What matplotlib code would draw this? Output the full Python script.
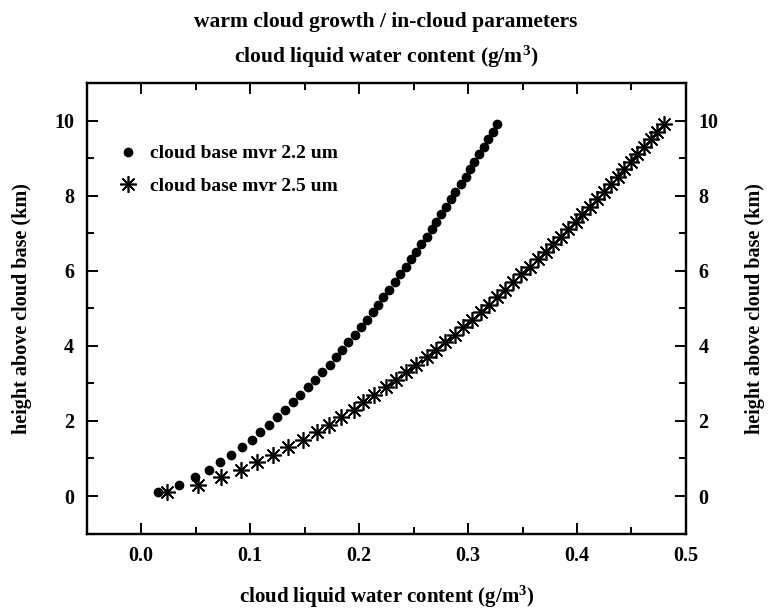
import matplotlib
matplotlib.use("Agg")
import matplotlib.pyplot as plt
from matplotlib.ticker import MultipleLocator

plt.rcParams["font.family"] = "Liberation Serif"
plt.rcParams["font.weight"] = "bold"
plt.rcParams["axes.labelweight"] = "bold"
plt.rcParams["mathtext.fontset"] = "custom"
plt.rcParams["mathtext.rm"] = "Liberation Serif:bold"
plt.rcParams["mathtext.it"] = "Liberation Serif:bold"
plt.rcParams["mathtext.bf"] = "Liberation Serif:bold"

# heights above cloud base (km)
heights = [0.1, 0.3, 0.5, 0.7, 0.9, 1.1, 1.3, 1.5, 1.7, 1.9,
           2.1, 2.3, 2.5, 2.7, 2.9, 3.1, 3.3, 3.5, 3.7, 3.9,
           4.1, 4.3, 4.5, 4.7, 4.9, 5.1, 5.3, 5.5, 5.7, 5.9,
           6.1, 6.3, 6.5, 6.7, 6.9, 7.1, 7.3, 7.5, 7.7, 7.9,
           8.1, 8.3, 8.5, 8.7, 8.9, 9.1, 9.3, 9.5, 9.7, 9.9]

# cloud liquid water content (g/m3), cloud base mvr 2.2 um
lwc_22 = [0.0154, 0.0348, 0.049, 0.062, 0.0727, 0.0828, 0.0925, 0.1015, 0.1095, 0.117,
          0.125, 0.132, 0.139, 0.146, 0.153, 0.160, 0.1664, 0.1729, 0.1786, 0.1845,
          0.190, 0.196, 0.2015, 0.207, 0.2125, 0.2175, 0.222, 0.2276, 0.2328, 0.238,
          0.243, 0.2475, 0.2525, 0.257, 0.262, 0.2665, 0.271, 0.275, 0.2795, 0.284,
          0.2885, 0.2932, 0.298, 0.3017, 0.3056, 0.3105, 0.3148, 0.3185, 0.3225, 0.3267]

# cloud base mvr 2.5 um
lwc_25 = [0.0236, 0.052, 0.073, 0.0915, 0.106, 0.121, 0.135, 0.149, 0.161, 0.172,
          0.183, 0.195, 0.204, 0.214, 0.2245, 0.2343, 0.2435, 0.2527, 0.262, 0.2704,
          0.2793, 0.288, 0.2955, 0.3038, 0.3117, 0.319, 0.3265, 0.334, 0.3415, 0.349,
          0.357, 0.3644, 0.3712, 0.378, 0.3852, 0.392, 0.3987, 0.405, 0.4118, 0.4186,
          0.425, 0.431, 0.4373, 0.4434, 0.4495, 0.4553, 0.4614, 0.4676, 0.473, 0.4798]

fig = plt.figure(figsize=(7.69, 6.16), dpi=100)
ax = fig.add_axes([0.1127, 0.1338, 0.7793, 0.7315])

ax.plot(lwc_22, heights, linestyle="none", marker="o", markersize=6,
        color="black", label="cloud base mvr 2.2 um")
ax.plot(lwc_25, heights, linestyle="none", marker=(8, 2, 0), markersize=12,
        markeredgewidth=1.2, color="black", label="cloud base mvr 2.5 um")

ax.set_xlim(-0.05, 0.5)
ax.set_ylim(-1, 11)
ax.xaxis.set_major_locator(MultipleLocator(0.1))
ax.xaxis.set_minor_locator(MultipleLocator(0.05))
ax.yaxis.set_major_locator(MultipleLocator(2))
ax.yaxis.set_minor_locator(MultipleLocator(1))
ax.xaxis.set_major_formatter(plt.FuncFormatter(lambda v, p: f"{v:.1f}"))

# right axis: same scale, ticks and labels
ax2 = ax.twinx()
ax2.set_ylim(-1, 11)
ax2.yaxis.set_major_locator(MultipleLocator(2))
ax2.yaxis.set_minor_locator(MultipleLocator(1))

for a in (ax, ax2):
    for s in a.spines.values():
        s.set_linewidth(1.6)
    a.tick_params(which="both", direction="in", width=1.4, labelsize=14.5, pad=9)
    a.tick_params(which="major", length=8)
    a.tick_params(which="minor", length=5)
ax.tick_params(which="both", top=True)

ax.set_xlabel("cloud liquid water content (g/m$^{3}$)", fontsize=15, labelpad=13)
ax.set_ylabel("height above cloud base (km)", fontsize=14.5, labelpad=16)
ax2.set_ylabel("height above cloud base (km)", fontsize=14.5, labelpad=19)

ax.legend(loc="upper left", bbox_to_anchor=(0.035, 0.88), frameon=False,
          fontsize=14, handletextpad=0.5, labelspacing=0.75, handlelength=1.3,
          borderaxespad=0)

fig.text(0.502, 0.965, "warm cloud growth / in-cloud parameters",
         ha="center", va="center", fontsize=15.5)
fig.text(0.502, 0.908, "cloud liquid water content (g/m$^{3}$)",
         ha="center", va="center", fontsize=15.5)

fig.savefig("out.png", dpi=100)
